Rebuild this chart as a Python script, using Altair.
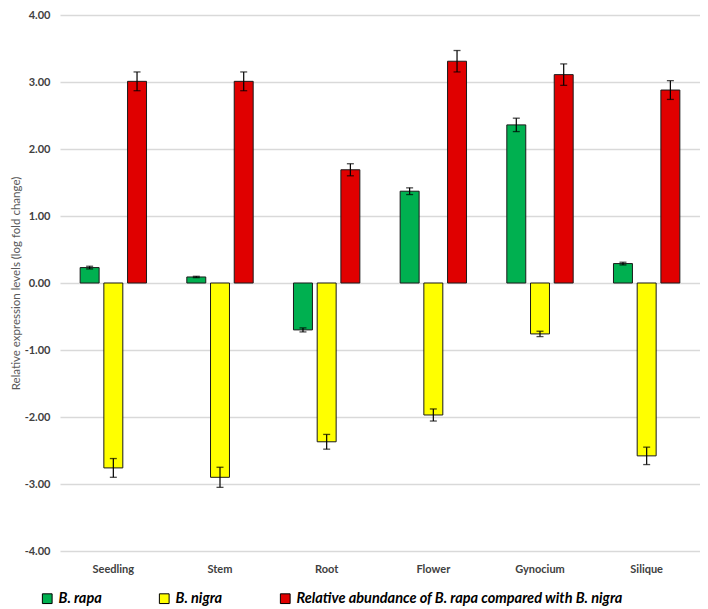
import altair as alt
import pandas as pd

categories = ["Seedling", "Stem", "Root", "Flower", "Gynocium", "Silique"]
series = ["B. rapa", "B. nigra", "Relative abundance of B. rapa compared with B. nigra"]
colors = ["#00B050", "#FFFF00", "#E00000"]

rapa = [0.23, 0.09, -0.70, 1.37, 2.36, 0.29]
rapa_err = [0.02, 0.01, 0.03, 0.05, 0.10, 0.02]
nigra = [-2.76, -2.90, -2.37, -1.97, -0.76, -2.58]
nigra_err = [0.14, 0.15, 0.11, 0.09, 0.04, 0.13]
abund = [3.01, 3.01, 1.69, 3.31, 3.11, 2.88]
abund_err = [0.14, 0.14, 0.09, 0.16, 0.16, 0.14]

y_ticks = [-4, -3, -2, -1, 0, 1, 2, 3, 4]

rows = []
for s, vals, errs in zip(series, [rapa, nigra, abund], [rapa_err, nigra_err, abund_err]):
    for c, v, e in zip(categories, vals, errs):
        rows.append({"category": c, "series": s, "value": v, "lo": v - e, "hi": v + e})
df = pd.DataFrame(rows)

FONT = "Lato"
Y_TITLE = "Relative expression levels (log fold change)"

x_enc = alt.X(
    "category:N",
    sort=categories,
    scale=alt.Scale(paddingInner=0, paddingOuter=0),
    axis=alt.Axis(
        title=None, labelAngle=0, ticks=False, domain=False, grid=False,
        labelFont=FONT, labelFontSize=11, labelFontWeight="bold",
        labelColor="#404040", labelPadding=12,
    ),
)
xo_enc = alt.XOffset(
    "series:N", sort=series,
    scale=alt.Scale(paddingInner=0.2, paddingOuter=0.85),
)
y_scale = alt.Scale(domain=[-4, 4], nice=False)
y_axis = alt.Axis(
    values=y_ticks,
    labelExpr="replace(format(datum.value, '.2f'), '\u2212', '-')",
    title=Y_TITLE,
    titleFont=FONT, titleFontSize=11.5, titleFontWeight="normal",
    titleColor="#595959", titlePadding=3,
    labelFont=FONT, labelFontSize=11, labelFontWeight="bold",
    labelColor="#404040", labelPadding=10,
    ticks=False, domain=False,
    gridColor="#D9D9D9", gridWidth=1.5,
)

base = alt.Chart(df).encode(x=x_enc, xOffset=xo_enc)

bars = base.mark_bar(stroke="#1a1a1a", strokeWidth=1).encode(
    y=alt.Y("value:Q", scale=y_scale, axis=y_axis, title=Y_TITLE),
    color=alt.Color(
        "series:N",
        sort=series,
        scale=alt.Scale(domain=series, range=colors),
        legend=alt.Legend(
            title=None, orient="none", legendX=-20, legendY=576,
            direction="horizontal", symbolType="square", symbolSize=95,
            symbolStrokeColor="black", symbolStrokeWidth=1,
            labelFont=FONT, labelFontSize=14.5, labelFontWeight="bold",
            labelFontStyle="italic", labelColor="black",
            columnPadding=55, labelLimit=600, labelOffset=4,
        ),
    ),
)

err_rule = base.mark_rule(color="black", strokeWidth=1.2).encode(
    y=alt.Y("lo:Q", scale=y_scale, axis=y_axis, title=Y_TITLE),
    y2="hi:Q",
)
cap_lo = base.mark_tick(color="black", thickness=1.3, size=7).encode(
    y=alt.Y("lo:Q", scale=y_scale, axis=y_axis, title=Y_TITLE)
)
cap_hi = base.mark_tick(color="black", thickness=1.3, size=7).encode(
    y=alt.Y("hi:Q", scale=y_scale, axis=y_axis, title=Y_TITLE)
)

chart = (
    alt.layer(bars, err_rule, cap_lo, cap_hi)
    .properties(
        width=640, height=536,
        autosize=alt.AutoSizeParams(type="none"),
        padding={"left": 52, "top": 7, "right": 0, "bottom": 58},
        background="white",
    )
    .configure_view(stroke=None)
)

chart.save("out.html", embed_options={"renderer": "svg", "actions": False})
